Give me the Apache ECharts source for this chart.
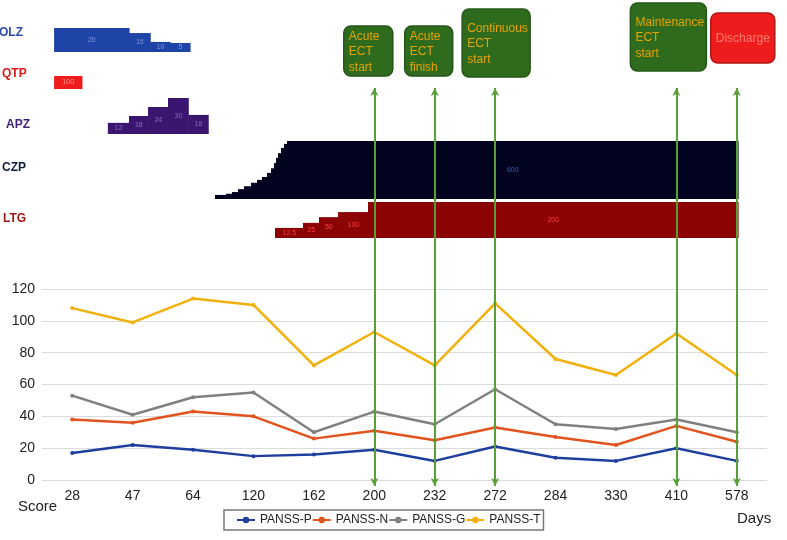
<!DOCTYPE html>
<html><head><meta charset="utf-8">
<script src="https://cdn.jsdelivr.net/npm/echarts@6/dist/echarts.min.js"></script>
<style>html,body{margin:0;padding:0;background:#fff}#c{width:787px;height:540px}</style>
</head><body><div id="c"></div><script>
// ---- PANSS scores ----
const days = ['28','47','64','120','162','200','232','272','284','330','410','578'];
const panssP = [17,22,19,15,16,19,12,21,14,12,20,12];
const panssN = [38,36,43,40,26,31,25,33,27,22,34,24];
const panssG = [53,41,52,55,30,43,35,57,35,32,38,30];
const panssT = [108,99,114,110,72,93,72,111,76,66,92,66];
const seriesNames = ['PANSS-P','PANSS-N','PANSS-G','PANSS-T'];
const yMin = 0, yMax = 120, yStep = 20;

// ---- ECT events ----
const eventDays = ['200','232','272','410','578'];
const eventLabels = ['Acute\nECT\nstart','Acute\nECT\nfinish','Continuous\nECT\nstart','Maintenance\nECT\nstart','Discharge'];

// ---- Drug timelines (timeline position in visit-slot units, relative dose level, dose label) ----
const drugNames = ['OLZ','QTP','APZ','CZP','LTG'];
const olzBreaks = [0.2,1.44,1.79,2.12,2.45];
const olzLevels = [1,0.79,0.42,0.375];
const olzDoses  = ['20','15','10','5'];
const qtpBreaks = [0.2,0.66];
const qtpLevels = [1];
const qtpDoses  = ['100'];
const apzBreaks = [1.09,1.44,1.755,2.085,2.42,2.75];
const apzLevels = [0.31,0.5,0.75,1,0.53];
const apzDoses  = ['12','18','24','30','18'];
const czpBreaks = [2.863,3.045,3.145,3.244,3.343,3.459,3.559,3.641,3.724,3.790,3.840,3.873,3.906,3.956,4.005,4.055,11.52];
const czpLevels = [0.07,0.09,0.12,0.17,0.22,0.28,0.33,0.38,0.45,0.53,0.62,0.71,0.79,0.88,0.95,1];
const czpDoses  = ['','','','','','','','','','','','','','','','600'];
const ltgBreaks = [3.857,4.32,4.585,4.90,5.396,11.52];
const ltgLevels = [0.28,0.42,0.58,0.72,1];
const ltgDoses  = ['12.5','25','50','100','200'];

// ---- styling ----
const FONT = 'Liberation Sans, Arial, sans-serif';
const lineColors = ['#1f3f9f','#e2531d','#808080','#f2b00a'];
const drugStyle = [
  {top:28, h:24, fill:'#1f44a8', lab:'#7f9be0', text:'#2a4ca2', ty:34, tx:-1},
  {top:76, h:13, fill:'#ee1c1c', lab:'#ff9a9a', text:'#e01818', ty:75, tx:2},
  {top:98, h:36, fill:'#3a1670', lab:'#8a6cc0', text:'#3d1f7a', ty:126, tx:6},
  {top:141, h:58, fill:'#02041f', lab:'#3a58b0', text:'#0d1a3c', ty:169, tx:2},
  {top:202, h:36, fill:'#8b0303', lab:'#ff4040', text:'#a31616', ty:220, tx:3}
];
const boxStyle = [
  {dx:-6, w:49, h:50, gap:12, fill:'#2f6b1c', stroke:'#25571a', tc:'#e7a300', align:'left'},
  {dx:-6, w:48, h:50, gap:12, fill:'#2f6b1c', stroke:'#25571a', tc:'#e7a300', align:'left'},
  {dx:1,  w:68, h:68, gap:11, fill:'#2f6b1c', stroke:'#25571a', tc:'#e7a300', align:'left'},
  {dx:-8, w:76, h:68, gap:17, fill:'#2f6b1c', stroke:'#25571a', tc:'#e7a300', align:'left'},
  {dx:6,  w:64, h:50, gap:25, fill:'#ee1c1c', stroke:'#b01414', tc:'#ff7d6e', align:'center'}
];

const drugs = [
  [olzBreaks,olzLevels,olzDoses],[qtpBreaks,qtpLevels,qtpDoses],[apzBreaks,apzLevels,apzDoses],
  [czpBreaks,czpLevels,czpDoses],[ltgBreaks,ltgLevels,ltgDoses]
];

const L = 42, R = 20;
const grids = [
  {left:L, right:R, top:289, bottom:60},   // line chart
  {left:L, right:R, top:88, bottom:54}     // ECT overlay
];
const xAxes = [
  {gridIndex:0, type:'category', data:days, boundaryGap:true,
   axisLine:{show:false}, axisTick:{show:false},
   axisLabel:{fontSize:14, color:'#222', margin:9, fontFamily:FONT}},
  {gridIndex:1, type:'category', data:days, boundaryGap:true, show:false}
];
const yAxes = [
  {gridIndex:0, type:'value', min:yMin, max:yMax, interval:yStep,
   axisLine:{show:false}, axisTick:{show:false},
   axisLabel:{fontSize:14, color:'#222', margin:7, fontFamily:FONT},
   splitLine:{lineStyle:{color:'#dcdcdc', width:1}}},
  {gridIndex:1, type:'value', min:0, max:1, show:false}
];
const series = [];
seriesNames.forEach((n,i)=>{
  series.push({name:n, type:'line', xAxisIndex:0, yAxisIndex:0,
    data:[panssP,panssN,panssG,panssT][i], color:lineColors[i],
    symbol:'circle', symbolSize:4, lineStyle:{width:2.5}, z:3});
});

drugs.forEach((d,k)=>{
  const st = drugStyle[k];
  grids.push({left:L, right:R, top:st.top, height:st.h});
  xAxes.push({gridIndex:k+2, type:'value', min:0, max:days.length, show:false});
  yAxes.push({gridIndex:k+2, type:'value', min:0, max:1, show:false});
  const [br, lv, ds] = d;
  const data = lv.map((v,i)=>[br[i], br[i+1], v]);
  series.push({type:'custom', xAxisIndex:k+2, yAxisIndex:k+2, data, z:2, silent:true,
    renderItem:(params, api)=>{
      const p0 = api.coord([api.value(0), api.value(2)]);
      const p1 = api.coord([api.value(1), 0]);
      const label = ds[params.dataIndex];
      const el = {type:'rect', shape:{x:p0[0], y:p0[1], width:p1[0]-p0[0]+0.6, height:p1[1]-p0[1]},
        style:{fill:st.fill}};
      if (label) {
        el.textContent = {style:{text:label, fill:st.lab, fontSize:7, fontFamily:FONT}};
        el.textConfig = {position:'inside'};
      }
      return el;
    }});
});

// ECT event lines + boxes
series.push({type:'custom', xAxisIndex:1, yAxisIndex:1, z:10, silent:true,
  data:eventDays.map(d=>[d,1]),
  renderItem:(params, api)=>{
    const i = params.dataIndex, b = boxStyle[i];
    const p = api.coord([api.value(0), 1]);
    const x = p[0] + b.dx - b.w/2, y = p[1] - b.gap - b.h;
    return {type:'group', children:[
      {type:'rect', shape:{x, y, width:b.w, height:b.h, r:7}, style:{fill:b.fill, stroke:b.stroke, lineWidth:1.5}},
      {type:'text', style:{x: b.align==='left' ? x+5 : x+b.w/2, y: y+b.h/2 + 1, text:eventLabels[i],
        fill:b.tc, fontSize:12, fontFamily:FONT, align:b.align, verticalAlign:'middle', lineHeight:15.5}}
    ]};
  },
  markLine:{silent:true, symbol:['arrow','arrow'], symbolSize:[6,8], label:{show:false},
    lineStyle:{color:'#5a9e3a', width:2, type:'solid'},
    data:eventDays.map(d=>({xAxis:d}))}
});

const graphics = drugNames.map((n,k)=>({type:'text', left:drugStyle[k].tx, top:drugStyle[k].ty-7,
  style:{text:n, fill:drugStyle[k].text, fontSize:12, fontWeight:'bold', fontFamily:FONT}}));
graphics.push({type:'text', left:18, top:499, style:{text:'Score', fill:'#222', fontSize:15, fontFamily:FONT}});
graphics.push({type:'text', left:737, top:511, style:{text:'Days', fill:'#222', fontSize:15, fontFamily:FONT}});

const chart = echarts.init(document.getElementById('c'), null, {renderer:'canvas'});
chart.setOption({
  animation:false,
  backgroundColor:'#fff',
  textStyle:{fontFamily:FONT},
  grid:grids, xAxis:xAxes, yAxis:yAxes, series,
  legend:{data:seriesNames, left:224, top:510, itemGap:0, itemWidth:18, itemHeight:8,
    padding:[4,3,4,12], borderColor:'#777', borderWidth:1.5, borderRadius:0,
    textStyle:{fontSize:12, color:'#222', fontFamily:FONT}},
  graphic:graphics
});
</script></body></html>
